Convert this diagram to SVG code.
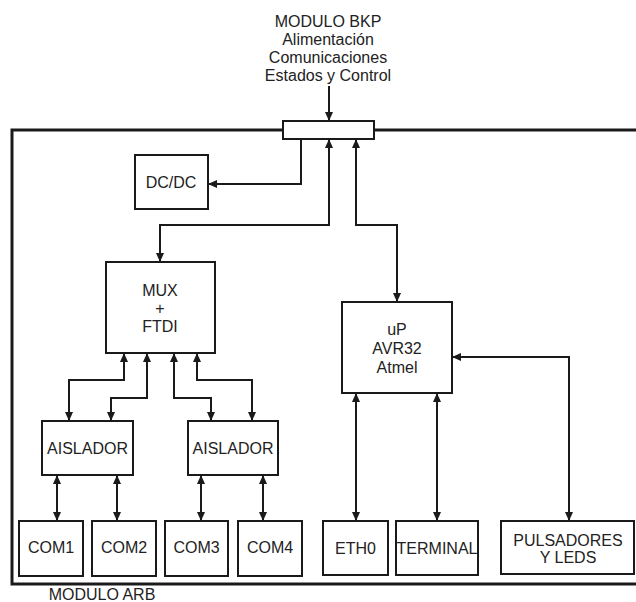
<svg xmlns="http://www.w3.org/2000/svg" width="636" height="602" viewBox="0 0 636 602">
<defs>
<style>
.box{fill:#fff;stroke:#1a1a1a;stroke-width:2}
.frame{fill:none;stroke:#1a1a1a;stroke-width:3}
.con{fill:none;stroke:#1a1a1a;stroke-width:2}
.dbl{marker-start:url(#ah);marker-end:url(#ah)}
.one{marker-end:url(#ah)}
text{font-family:"Liberation Sans",Arial,sans-serif;font-size:16px;fill:#222;text-anchor:middle}
</style>
<marker id="ah" viewBox="0 0 9 8" refX="9" refY="4" markerWidth="9" markerHeight="8" markerUnits="userSpaceOnUse" orient="auto-start-reverse">
<path d="M0,0 L9,4 L0,8 z" fill="#1a1a1a"/>
</marker>
</defs>
<rect width="636" height="602" fill="#fff"/>
<g id="frame">
<path class="frame" d="M283,130 H12 V584 H636 M374,130 H636"/>
<text x="102" y="600">MODULO ARB</text>
</g>
<g id="bkp">
<text x="328" y="27">MODULO BKP</text>
<text x="328" y="45">Alimentación</text>
<text x="328" y="63">Comunicaciones</text>
<text x="328" y="81">Estados y Control</text>
</g>
<g id="conector"><rect class="box" x="283" y="121" width="91" height="18"/></g>
<g id="dcdc"><rect class="box" x="135" y="155" width="73" height="54"/><text x="171" y="188">DC/DC</text></g>
<g id="mux"><rect class="box" x="106" y="262" width="109" height="91"/><text x="160" y="296">MUX</text><text x="160" y="314">+</text><text x="160" y="332">FTDI</text></g>
<g id="aislador1"><rect class="box" x="42" y="421" width="91" height="54"/><text x="87.5" y="454">AISLADOR</text></g>
<g id="aislador2"><rect class="box" x="188" y="421" width="90" height="54"/><text x="233" y="454">AISLADOR</text></g>
<g id="com1"><rect class="box" x="19" y="521" width="64" height="55"/><text x="51" y="553">COM1</text></g>
<g id="com2"><rect class="box" x="92" y="521" width="64" height="55"/><text x="124" y="553">COM2</text></g>
<g id="com3"><rect class="box" x="165" y="521" width="63" height="55"/><text x="196.5" y="553">COM3</text></g>
<g id="com4"><rect class="box" x="238" y="521" width="64" height="55"/><text x="270" y="553">COM4</text></g>
<g id="up"><rect class="box" x="342" y="302" width="110" height="91"/><text x="397" y="335">uP</text><text x="397" y="354">AVR32</text><text x="397" y="373">Atmel</text></g>
<g id="eth0"><rect class="box" x="323" y="521" width="65" height="54"/><text x="355.5" y="554">ETH0</text></g>
<g id="terminal"><rect class="box" x="396" y="521" width="82" height="54"/><text x="437" y="554">TERMINAL</text></g>
<g id="pulsadores"><rect class="box" x="501" y="521" width="133" height="53"/><text x="568" y="546">PULSADORES</text><text x="568" y="563">Y LEDS</text></g>
<g id="connectors">
<path class="con one" d="M329,86 V121"/>
<path class="con dbl" d="M329,139 V225 H160 V262"/>
<path class="con dbl" d="M356,139 V225 H397 V302"/>
<path class="con one" d="M301,139 V184 H208"/>
<path class="con dbl" d="M124,353 V380 H69 V421"/>
<path class="con dbl" d="M147,353 V398 H111 V421"/>
<path class="con dbl" d="M174,353 V398 H211 V421"/>
<path class="con dbl" d="M197,353 V380 H252 V421"/>
<path class="con dbl" d="M57,475 V521"/>
<path class="con dbl" d="M117,475 V521"/>
<path class="con dbl" d="M201,475 V521"/>
<path class="con dbl" d="M263,475 V521"/>
<path class="con dbl" d="M356,393 V521"/>
<path class="con dbl" d="M437,393 V521"/>
<path class="con dbl" d="M452,357 H569 V521"/>
</g>
</svg>
